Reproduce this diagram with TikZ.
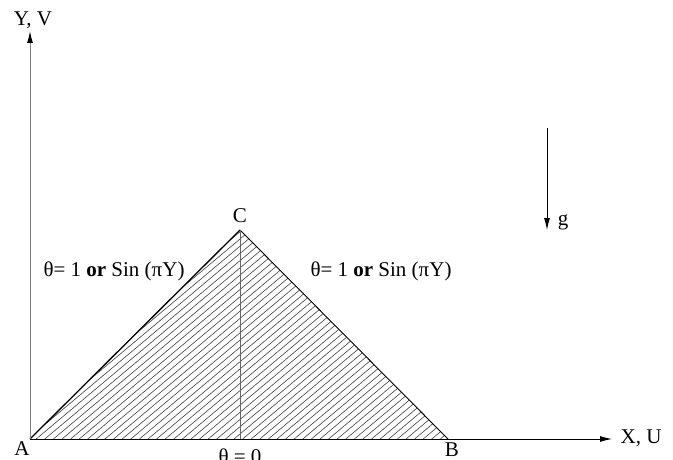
\documentclass[tikz,border=0pt]{standalone}
\usepackage{fontspec}
\setmainfont{Liberation Serif}
\usetikzlibrary{arrows.meta}
\begin{document}
\begin{tikzpicture}[x=1pt,y=-1pt, font=\fontsize{21}{25}\selectfont,
  lbl/.style={inner sep=0pt},
  hatch/.style={line width=0.55pt, black!80},
  arr/.style={-{Latex[length=12pt,width=6pt,color=black]}}]
\useasboundingbox (0,0) rectangle (673,460);
\coordinate (A) at (30,439);
\coordinate (B) at (448,439);
\coordinate (C) at (240,230);
\coordinate (D) at (240,439);
\coordinate (Yend) at (30,31);
\coordinate (Xend) at (612,439);
\coordinate (g1) at (547,128);
\coordinate (g2) at (547,230);
\begin{scope}
\clip (A) -- (C) -- (B) -- cycle;
\foreach \k in {0,...,56}
  \draw[hatch] ({-24+\k*8.6},439) -- ++(262,-220);
\end{scope}
\draw[line width=1.3pt] (A) -- (C);
\draw[line width=0.9pt] (C) -- (B);
\draw[black!60, line width=0.9pt] (C) -- (D);
\draw[black!50, line width=1pt, arr] (A) -- (Yend);
\draw[line width=0.9pt, arr] (A) -- (Xend);
\draw[line width=0.9pt, arr] (g1) -- (g2);
\node[lbl] (lA) at (22,449) {A};
\node[lbl] (lB) at (452,450) {B};
\node[lbl] (lC) at (240,216) {C};
\node[lbl] (lth) at (240,456) {θ = 0};
\node[lbl] (lL) at (114,271) {θ= 1 \textbf{or} Sin (πY)};
\node[lbl] (lR) at (381,271) {θ= 1 \textbf{or} Sin (πY)};
\node[lbl] (lX) at (641,438) {X, U};
\node[lbl] (lY) at (33,20) {Y, V};
\node[lbl] (lg) at (563,222) {g};
\end{tikzpicture}
\end{document}
